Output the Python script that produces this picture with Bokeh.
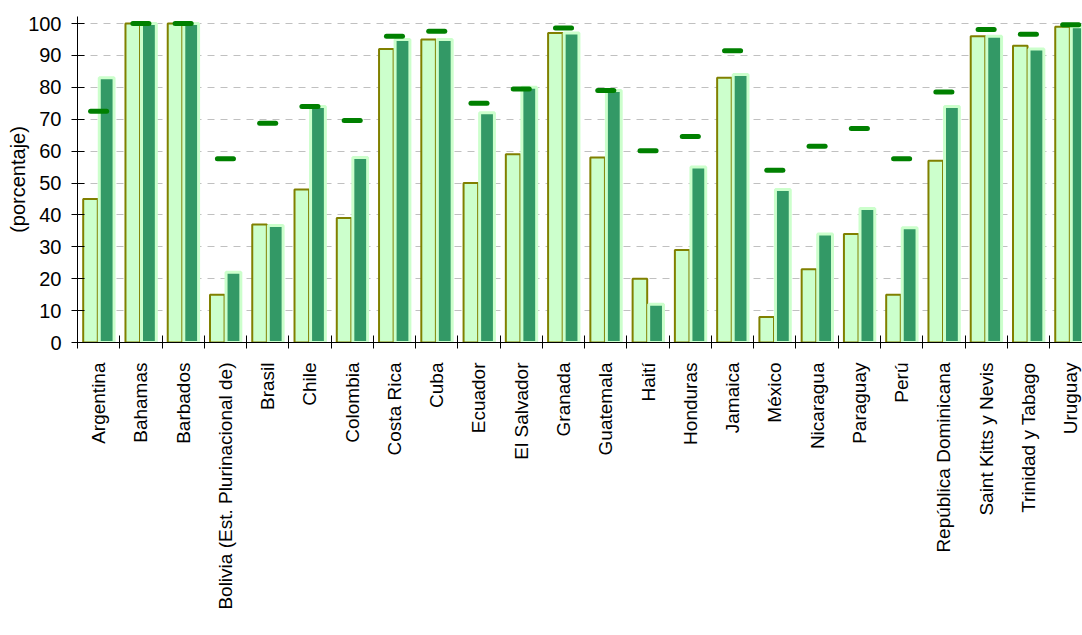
import numpy as np
from bokeh.plotting import figure
from bokeh.models import Range1d, FixedTicker, Legend, LegendItem, ColumnDataSource
from bokeh.embed import file_html
from bokeh.resources import INLINE

countries = ["Argentina", "Bahamas", "Barbados", "Bolivia (Est. Plurinacional de)", "Brasil",
             "Chile", "Colombia", "Costa Rica", "Cuba", "Ecuador", "El Salvador", "Granada",
             "Guatemala", "Haití", "Honduras", "Jamaica", "México", "Nicaragua", "Paraguay",
             "Perú", "República Dominicana", "Saint Kitts y Nevis", "Trinidad y Tabago", "Uruguay"]
v1990 = [45, 100, 100, 15, 37, 48, 39, 92, 95, 50, 59, 97, 58, 20, 29, 83, 8, 23, 34, 15, 57, 96, 93, 99]
v2006 = [83, 100, 100, 22, 36.7, 74, 58, 95, 95, 72, 80, 97, 79, 12, 55, 84, 48, 34, 42, 36, 74, 96, 92, 99]
meta = [72.5, 100, 100, 57.6, 68.7, 74, 69.6, 96, 97.6, 75, 79.5, 98.6, 79, 60.1, 64.6, 91.5,
        54, 61.5, 67.1, 57.6, 78.5, 98.1, 96.6, 99.6]
yticks = list(range(0, 101, 10))

FONT = "Liberation Sans"
idx = np.arange(len(countries))
src = ColumnDataSource(dict(
    x1990=idx + 0.3075, x2006=idx + 0.69,
    xm0=idx + 0.31, xm1=idx + 0.69,
    v1990=v1990, v2006=v2006, meta=meta))

p = figure(frame_width=1005, frame_height=326, output_backend="svg", toolbar_location=None,
           x_range=Range1d(0, 23.78), y_range=Range1d(0, 102.2),
           min_border_left=77, min_border_right=0, min_border_top=16, min_border_bottom=0,
           outline_line_color=None)

r1 = p.vbar(x="x1990", top="v1990", width=0.345, bottom=0, source=src,
            fill_color="#CCFFCC", line_color="#808000", line_width=2)
r2 = p.vbar(x="x2006", top="v2006", width=0.35, bottom=0, source=src,
            fill_color="#339966", line_color="#CCFFCC", line_width=3)
r3 = p.segment(x0="xm0", y0="meta", x1="xm1", y1="meta", source=src,
               line_color="#008000", line_width=5, line_cap="round")

# x axis
xa = p.xaxis[0]
xa.ticker = FixedTicker(ticks=[float(i) + 0.5 for i in idx], minor_ticks=list(range(0, 25)))
xa.major_label_overrides = {float(i) + 0.5: c for i, c in enumerate(countries)}
xa.major_label_orientation = np.pi / 2
xa.major_tick_out = 0
xa.major_tick_in = 0
xa.minor_tick_out = 6
xa.minor_tick_in = 7
xa.major_label_standoff = 14
xa.major_label_text_font = FONT
xa.major_label_text_font_size = "19px"
xa.major_label_text_color = "black"
xa.axis_line_color = "black"
xa.minor_tick_line_color = "black"

# y axis
ya = p.yaxis[0]
ya.ticker = FixedTicker(ticks=yticks)
ya.major_tick_out = 6
ya.major_tick_in = 7
ya.minor_tick_out = 0
ya.minor_tick_in = 0
ya.major_label_standoff = 10
ya.major_label_text_font = FONT
ya.major_label_text_font_size = "20px"
ya.major_label_text_color = "black"
ya.axis_label = "(porcentaje)"
ya.axis_label_text_font = FONT
ya.axis_label_text_font_size = "20px"
ya.axis_label_text_font_style = "normal"
ya.axis_label_text_color = "black"
ya.axis_label_standoff = -4
ya.axis_line_color = "black"
ya.major_tick_line_color = "black"

p.xgrid.grid_line_color = None
p.ygrid.grid_line_color = "#C0C0C0"
p.ygrid.grid_line_dash = "7 6"
p.ygrid.grid_line_width = 1

legend = Legend(items=[LegendItem(label="1990", renderers=[r1]),
                       LegendItem(label="2006", renderers=[r2]),
                       LegendItem(label="Meta rural 2015", renderers=[r3])],
                orientation="horizontal", location="top_center",
                label_text_font=FONT, label_text_font_size="17px",
                glyph_width=13, glyph_height=12, label_standoff=5, spacing=93,
                padding=0, margin=0, border_line_color=None, background_fill_alpha=0,
                label_height=18)
p.add_layout(legend, "below")

open("out.html", "w").write(file_html(p, INLINE))
